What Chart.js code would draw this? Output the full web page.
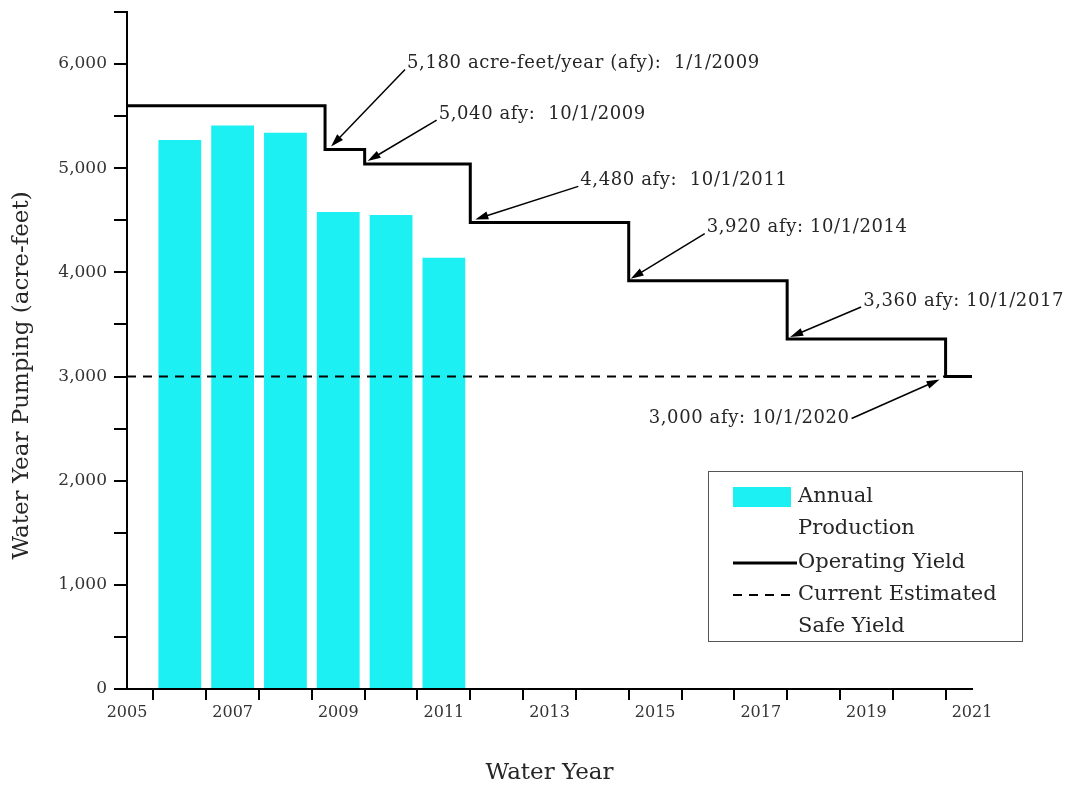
<!DOCTYPE html>
<html>
<head>
<meta charset="utf-8">
<script src="https://cdn.jsdelivr.net/npm/chart.js@4.4.1/dist/chart.umd.min.js"></script>
<style>
  body { margin: 0; background: #fff; }
</style>
</head>
<body>
<canvas id="myChart" width="1071" height="792"></canvas>
<script>
// Annual production by water year
const waterYears = [2006, 2007, 2008, 2009, 2010, 2011];
const production = [5270, 5410, 5340, 4580, 4550, 4140];

// Operating yield steps (decimal water year where each new value starts)
const stepYears = [2005, 2008.75, 2009.5, 2011.5, 2014.5, 2017.5, 2020.5, 2021];
const operatingYield = [5600, 5180, 5040, 4480, 3920, 3360, 3000, 3000];

// Current estimated safe yield
const safeYears = [2005, 2020.5];
const safeYield = [3000, 3000];

// Callouts, one per step of the operating yield (index into stepYears)
const noteTexts = [
  "5,180 acre-feet/year (afy):  1/1/2009",
  "5,040 afy:  10/1/2009",
  "4,480 afy:  10/1/2011",
  "3,920 afy: 10/1/2014",
  "3,360 afy: 10/1/2017",
  "3,000 afy: 10/1/2020",
];
const noteSteps = [1, 2, 3, 4, 5, 6];

const legendLabels = [["Annual", "Production"], ["Operating Yield"], ["Current Estimated", "Safe Yield"]];
const yTitle = "Water Year Pumping (acre-feet)";

const serif = "'DejaVu Serif', serif";
const textColor = "#262626";
const cyan = "#1cf0f2";

// tail / head offsets (px) from the step corner, text side
const noteLayout = [
  { tail: [80, -80], head: [6, -3], side: "left" },
  { tail: [72, -44], head: [3, -3], side: "left" },
  { tail: [108, -36], head: [5, -3], side: "left" },
  { tail: [76, -47], head: [2, -2], side: "left" },
  { tail: [74, -32], head: [3, -2], side: "left" },
  { tail: [-94, 42], head: [-6, 3], side: "right" },
];

function drawArrow(ctx, x1, y1, x2, y2) {
  const ang = Math.atan2(y2 - y1, x2 - x1);
  const len = 13, half = 4;
  ctx.beginPath();
  ctx.moveTo(x1, y1);
  ctx.lineTo(x2 - Math.cos(ang) * len * 0.8, y2 - Math.sin(ang) * len * 0.8);
  ctx.lineWidth = 1.5;
  ctx.stroke();
  ctx.beginPath();
  ctx.moveTo(x2, y2);
  ctx.lineTo(x2 - Math.cos(ang) * len + Math.sin(ang) * half, y2 - Math.sin(ang) * len - Math.cos(ang) * half);
  ctx.lineTo(x2 - Math.cos(ang) * len - Math.sin(ang) * half, y2 - Math.sin(ang) * len + Math.cos(ang) * half);
  ctx.closePath();
  ctx.fill();
}

const calloutsAndLegend = {
  id: "calloutsAndLegend",
  afterDatasetsDraw(chart) {
    const { ctx, chartArea, scales: { x, y } } = chart;
    ctx.save();
    ctx.strokeStyle = "#000";
    ctx.fillStyle = "#000";

    // y axis title, sitting a little below the plot's middle
    ctx.save();
    ctx.translate(22, chartArea.top + chartArea.height / 2 + 25);
    ctx.rotate(-Math.PI / 2);
    ctx.font = "23px " + serif;
    ctx.textAlign = "center";
    ctx.textBaseline = "middle";
    ctx.fillStyle = textColor;
    ctx.fillText(yTitle, 0, 0);
    ctx.restore();

    // callouts
    ctx.font = "18px " + serif;
    ctx.letterSpacing = "0.6px";
    ctx.textBaseline = "middle";
    noteSteps.forEach((s, i) => {
      const px = x.getPixelForValue(stepYears[s]);
      const py = y.getPixelForValue(operatingYield[s]);
      const l = noteLayout[i];
      const tx = px + l.tail[0], ty = py + l.tail[1];
      ctx.fillStyle = "#000";
      drawArrow(ctx, tx, ty, px + l.head[0], py + l.head[1]);
      ctx.fillStyle = textColor;
      if (l.side === "left") {
        ctx.textAlign = "left";
        ctx.fillText(noteTexts[i], tx + 2, ty - 6);
      } else {
        ctx.textAlign = "right";
        ctx.fillText(noteTexts[i], tx - 2, ty);
      }
    });
    ctx.letterSpacing = "0px";

    // legend box
    const bx = chartArea.right - 264, by = chartArea.top + 459;
    const bw = 314, bh = 170;
    ctx.fillStyle = "#fff";
    ctx.fillRect(bx, by, bw, bh);
    ctx.strokeStyle = "#555";
    ctx.lineWidth = 1;
    ctx.strokeRect(bx + 0.5, by + 0.5, bw, bh);

    const sx = bx + 25, sw = 64, lx = bx + 90, row = 32;
    let ry = by + 26;
    ctx.font = "21px " + serif;
    ctx.textAlign = "left";
    ctx.textBaseline = "middle";

    ctx.fillStyle = cyan;
    ctx.fillRect(sx, ry - 10, sw - 6, 20);
    ctx.fillStyle = textColor;
    legendLabels[0].forEach((t, k) => ctx.fillText(t, lx, ry + k * row));
    ry += row * 2 + 2;

    ctx.strokeStyle = "#000";
    ctx.lineWidth = 3;
    ctx.beginPath();
    ctx.moveTo(sx, ry);
    ctx.lineTo(sx + sw, ry);
    ctx.stroke();
    ctx.fillText(legendLabels[1][0], lx, ry);
    ry += row;

    ctx.lineWidth = 2;
    ctx.setLineDash([9, 7]);
    ctx.beginPath();
    ctx.moveTo(sx, ry);
    ctx.lineTo(sx + sw, ry);
    ctx.stroke();
    ctx.setLineDash([]);
    legendLabels[2].forEach((t, k) => ctx.fillText(t, lx, ry + k * row));

    ctx.restore();
  },
};

const ctx = document.getElementById("myChart").getContext("2d");

new Chart(ctx, {
  type: "bar",
  data: {
    datasets: [
      {
        type: "line",
        label: "Operating Yield",
        data: stepYears.map((v, i) => ({ x: v, y: operatingYield[i] })),
        borderColor: "#000",
        borderWidth: 3,
        stepped: true,
        pointRadius: 0,
        fill: false,
        order: 1,
      },
      {
        type: "line",
        label: "Current Estimated Safe Yield",
        data: safeYears.map((v, i) => ({ x: v, y: safeYield[i] })),
        borderColor: "#000",
        borderWidth: 2,
        borderDash: [9, 7],
        pointRadius: 0,
        fill: false,
        order: 2,
      },
      {
        label: "Annual Production",
        data: waterYears.map((v, i) => ({ x: v, y: production[i] })),
        backgroundColor: cyan,
        barPercentage: 0.9,
        categoryPercentage: 0.9,
        order: 3,
      },
    ],
  },
  options: {
    responsive: false,
    animation: false,
    layout: { padding: { top: 12, right: 99, left: 0, bottom: 0 } },
    plugins: {
      legend: { display: false },
      tooltip: { enabled: false },
    },
    scales: {
      x: {
        type: "linear",
        min: 2005,
        max: 2021,
        offset: false,
        afterFit: (scale) => { scale.height = 103; },
        border: { color: "#000", width: 2 },
        grid: { drawOnChartArea: false, tickLength: 11, color: "#000", lineWidth: 2 },
        ticks: {
          stepSize: 1,
          autoSkip: false,
          maxRotation: 0,
          padding: 3,
          color: "#333",
          font: { family: serif, size: 16 },
          callback: (v) => ((v - 2005) % 2 === 0 ? String(v) : ""),
        },
        title: {
          display: true,
          text: "Water Year",
          color: textColor,
          font: { family: serif, size: 23 },
          padding: { top: 0, bottom: 5 },
        },
      },
      y: {
        min: 0,
        max: 6500,
        afterFit: (scale) => {
          scale.width = 127;
          scale.paddingTop = 0;
        },
        border: { color: "#000", width: 2 },
        grid: { drawOnChartArea: false, tickLength: 13, color: "#000", lineWidth: 2 },
        ticks: {
          stepSize: 500,
          autoSkip: false,
          padding: 7,
          color: "#333",
          font: { family: serif, size: 17 },
          callback: (v) => (v % 1000 === 0 && v <= 6000 ? v.toLocaleString("en-US") : ""),
        },
      },
    },
  },
  plugins: [calloutsAndLegend],
});
</script>
</body>
</html>
